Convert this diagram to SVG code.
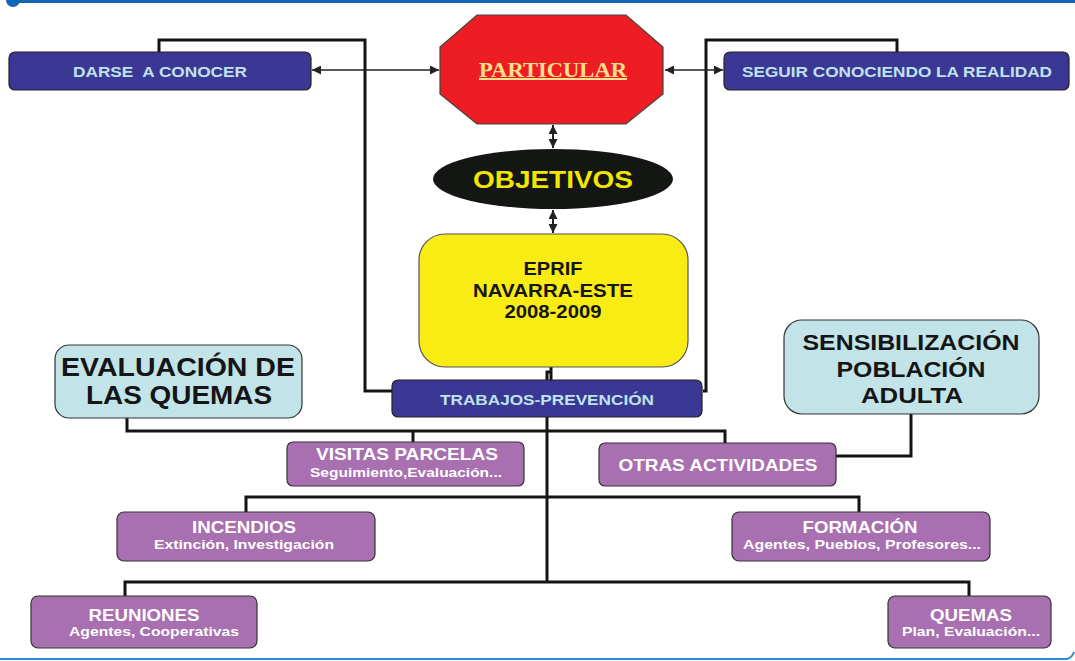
<svg xmlns="http://www.w3.org/2000/svg" width="1075" height="661" viewBox="0 0 1075 661">
<style>
.conn{fill:none;stroke:#141414;stroke-width:3;stroke-linejoin:miter}
.arr{fill:none;stroke:#222;stroke-width:1.4}
.arrv{fill:none;stroke:#222;stroke-width:2}
.blue{fill:#3B3795;stroke:#222;stroke-width:1.2}
.purple{fill:#A870B0;stroke:#333;stroke-width:1.2}
.cyan{fill:#C2E4E8;stroke:#333;stroke-width:1.2}
text{font-family:"Liberation Sans",Arial,sans-serif;font-weight:bold;text-anchor:middle}
.tb{fill:#BFE3EC;font-size:15.5px}
.tw{fill:#FFFFFF;font-size:16.5px}
.ts{fill:#FFFFFF;font-size:13.5px}
.tk{fill:#151515}
</style>
<defs>
<marker id="ah" viewBox="0 0 10 10" refX="10" refY="5" markerWidth="9" markerHeight="9" markerUnits="userSpaceOnUse" orient="auto-start-reverse">
<path d="M0,0 L10,5 L0,10 Z" fill="#222"/>
</marker>
</defs>
<g id="border">
<line x1="13" y1="1.5" x2="1075" y2="1.5" stroke="#1565B5" stroke-width="3"/>
<circle cx="13" cy="0" r="7" fill="#1565B5"/>
<path d="M0,659 H1067 Q1072,658 1074,652" fill="none" stroke="#2B8BD6" stroke-width="2"/>
</g>
<g id="connectors">
<path class="conn" d="M159,52 V40 H365 V391 H393"/>
<path class="conn" d="M897,52 V40 H706 V391 H703"/>
<path class="conn" d="M551,367 V380 M547,380 V372 H551" stroke-width="2.5"/>
<path class="conn" d="M547,417 V582"/>
<path class="conn" d="M127,418 V431 H725 V443"/>
<path class="conn" d="M413,431 V442"/>
<path class="conn" d="M911,414 V456 H836"/>
<path class="conn" d="M246,512 V497 H859 V512"/>
<path class="conn" d="M125,596 V582 H969 V596"/>
<line class="arr" x1="312" y1="70" x2="439" y2="70" marker-start="url(#ah)" marker-end="url(#ah)"/>
<line class="arr" x1="665" y1="70" x2="723" y2="70" marker-start="url(#ah)" marker-end="url(#ah)"/>
<line class="arrv" x1="553" y1="125" x2="553" y2="148" marker-start="url(#ah)" marker-end="url(#ah)"/>
<line class="arrv" x1="553" y1="210" x2="553" y2="233" marker-start="url(#ah)" marker-end="url(#ah)"/>
</g>
<g id="particular">
<polygon points="477,15 626,15 663,47 663,94 626,124 477,124 440,94 440,47" fill="#EE1D24" stroke="#444" stroke-width="1.2"/>
<text x="553" y="77" style="font-family:'Liberation Serif','Times New Roman',serif;font-size:20px;fill:#F8E08E;text-decoration:underline" textLength="148" lengthAdjust="spacingAndGlyphs">PARTICULAR</text>
</g>
<g id="darse">
<rect class="blue" x="9" y="52" width="302" height="38" rx="6"/>
<text class="tb" x="160" y="77" xml:space="preserve" textLength="174" lengthAdjust="spacingAndGlyphs">DARSE  A CONOCER</text>
</g>
<g id="seguir">
<rect class="blue" x="724" y="52" width="345" height="38" rx="6"/>
<text class="tb" x="897" y="77" textLength="310" lengthAdjust="spacingAndGlyphs">SEGUIR CONOCIENDO LA REALIDAD</text>
</g>
<g id="objetivos">
<ellipse cx="553" cy="179" rx="120" ry="30" fill="#141614"/>
<text x="553" y="188" style="font-size:24px;fill:#F2E600" textLength="160" lengthAdjust="spacingAndGlyphs">OBJETIVOS</text>
</g>
<g id="eprif">
<rect x="419" y="234" width="269" height="133" rx="26" fill="#F9EC14" stroke="#555" stroke-width="1.2"/>
<text class="tk" x="553" y="275" style="font-size:18px" textLength="59" lengthAdjust="spacingAndGlyphs">EPRIF</text>
<text class="tk" x="553" y="297" style="font-size:18px" textLength="160" lengthAdjust="spacingAndGlyphs">NAVARRA-ESTE</text>
<text class="tk" x="553" y="318" style="font-size:18px" textLength="97" lengthAdjust="spacingAndGlyphs">2008-2009</text>
</g>
<g id="trabajos">
<rect class="blue" x="392" y="380" width="310" height="37" rx="6"/>
<text class="tb" x="547" y="405" textLength="214" lengthAdjust="spacingAndGlyphs">TRABAJOS-PREVENCIÓN</text>
</g>
<g id="evaluacion">
<rect class="cyan" x="55" y="345" width="247" height="73" rx="14"/>
<text class="tk" x="178" y="376" style="font-size:26px" textLength="234" lengthAdjust="spacingAndGlyphs">EVALUACIÓN DE</text>
<text class="tk" x="179" y="404" style="font-size:26px" textLength="186" lengthAdjust="spacingAndGlyphs">LAS QUEMAS</text>
</g>
<g id="sensibilizacion">
<rect class="cyan" x="784" y="320" width="255" height="94" rx="18"/>
<text class="tk" x="911" y="350" style="font-size:22px" textLength="217" lengthAdjust="spacingAndGlyphs">SENSIBILIZACIÓN</text>
<text class="tk" x="911" y="377" style="font-size:22px" textLength="149" lengthAdjust="spacingAndGlyphs">POBLACIÓN</text>
<text class="tk" x="912" y="403" style="font-size:22px" textLength="102" lengthAdjust="spacingAndGlyphs">ADULTA</text>
</g>
<g id="visitas">
<rect class="purple" x="287" y="442" width="237" height="44" rx="6"/>
<text class="tw" x="407" y="460" textLength="182" lengthAdjust="spacingAndGlyphs">VISITAS PARCELAS</text>
<text class="ts" x="406" y="477" textLength="192" lengthAdjust="spacingAndGlyphs">Seguimiento,Evaluación...</text>
</g>
<g id="otras">
<rect class="purple" x="599" y="443" width="237" height="43" rx="6"/>
<text class="tw" x="718" y="471" textLength="199" lengthAdjust="spacingAndGlyphs">OTRAS ACTIVIDADES</text>
</g>
<g id="incendios">
<rect class="purple" x="117" y="512" width="258" height="49" rx="7"/>
<text class="tw" x="244" y="533" textLength="104" lengthAdjust="spacingAndGlyphs">INCENDIOS</text>
<text class="ts" x="244" y="549" textLength="180" lengthAdjust="spacingAndGlyphs">Extinción, Investigación</text>
</g>
<g id="formacion">
<rect class="purple" x="732" y="512" width="258" height="49" rx="7"/>
<text class="tw" x="860" y="533" textLength="115" lengthAdjust="spacingAndGlyphs">FORMACIÓN</text>
<text class="ts" x="862" y="549" textLength="238" lengthAdjust="spacingAndGlyphs">Agentes, Pueblos, Profesores...</text>
</g>
<g id="reuniones">
<rect class="purple" x="31" y="596" width="226" height="52" rx="7"/>
<text class="tw" x="144" y="621" textLength="111" lengthAdjust="spacingAndGlyphs">REUNIONES</text>
<text class="ts" x="154" y="636" textLength="170" lengthAdjust="spacingAndGlyphs">Agentes, Cooperativas</text>
</g>
<g id="quemas">
<rect class="purple" x="888" y="596" width="163" height="52" rx="7"/>
<text class="tw" x="971" y="621" textLength="82" lengthAdjust="spacingAndGlyphs">QUEMAS</text>
<text class="ts" x="971" y="636" textLength="138" lengthAdjust="spacingAndGlyphs">Plan, Evaluación...</text>
</g>
</svg>
